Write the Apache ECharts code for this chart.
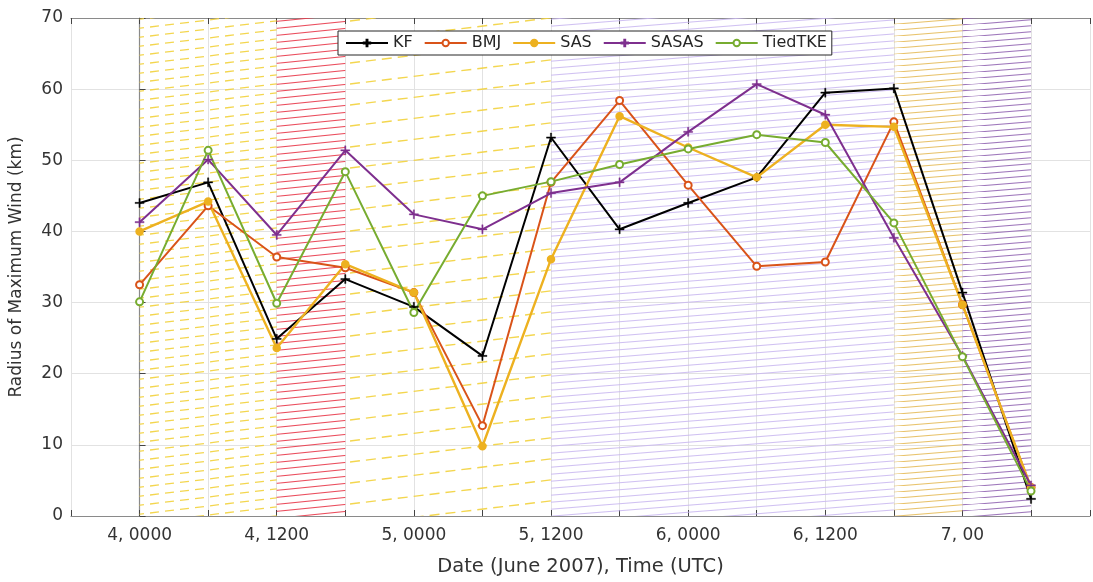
<!DOCTYPE html>
<html><head><meta charset="utf-8">
<script src="https://cdn.jsdelivr.net/npm/echarts@6/dist/echarts.min.js"></script>
<style>html,body{margin:0;padding:0;background:#fff}#c{width:1093px;height:582px}</style>
</head><body><div id="c"></div>
<script>
const tickLabels = ['4, 0000','','4, 1200','','5, 0000','','5, 1200','','6, 0000','','6, 1200','','7, 00',''];
const seriesNames = ['KF','BMJ','SAS','SASAS','TiedTKE'];
const KF      = [44.0, 46.9, 24.9, 33.3, 29.4, 22.5, 53.2, 40.3, 44.0, 47.6, 59.5, 60.1, 31.4, 2.4];
const BMJ     = [32.5, 43.6, 36.4, 34.9, 31.4, 12.7, 46.9, 58.4, 46.5, 35.1, 35.7, 55.4, 29.7, 4.0];
const SAS     = [40.0, 44.2, 23.6, 35.4, 31.4, 9.8, 36.1, 56.2, 51.8, 47.6, 55.0, 54.7, 29.7, 4.0];
const SASAS   = [41.3, 50.1, 39.5, 51.4, 42.4, 40.3, 45.4, 46.9, 54.0, 60.7, 56.4, 39.1, 22.5, 4.3];
const TiedTKE = [30.1, 51.4, 29.9, 48.4, 28.6, 45.0, 47.0, 49.4, 51.6, 53.6, 52.5, 41.2, 22.4, 3.5];
const bandStart = [0, 2, 3, 6, 11, 12];
const bandEnd   = [2, 3, 6, 11, 12, 13];

function hatch(color, spacing, slope, dashLen, nDash, lw, alpha) {
  const W = Math.round(spacing / slope);
  const c = document.createElement('canvas');
  c.width = W; c.height = spacing;
  const ctx = c.getContext('2d');
  ctx.strokeStyle = color; ctx.lineWidth = lw; ctx.globalAlpha = alpha;
  if (dashLen) {
    const L = Math.sqrt(W * W + spacing * spacing);
    const p = L / nDash;
    ctx.setLineDash([dashLen, p - dashLen]);
  }
  for (let k = -1; k <= 1; k++) {
    ctx.beginPath();
    ctx.moveTo(0, spacing + k * spacing);
    ctx.lineTo(W, k * spacing);
    ctx.stroke();
  }
  return { image: c, repeat: 'repeat' };
}
const bandFills = [
  hatch('#f2d23c', 9, 0.12, 9, 5, 1.3, 0.9),
  hatch('#e8384a', 7, 0.1, 0, 0, 1.1, 0.9),
  hatch('#f2d23c', 21, 0.12, 10, 11, 1.4, 0.9),
  hatch('#c8b6f0', 7, 0.08, 0, 0, 1.1, 0.85),
  hatch('#e6bc5c', 6.5, 0.08, 0, 0, 1.1, 0.9),
  hatch('#9468b4', 6.5, 0.08, 0, 0, 1.1, 0.9)
];

const colors = ['#000000', '#D95319', '#EDB120', '#7E2F8E', '#77AC30'];
const plus = 'path://M4.3,0h1.4v4.3h4.3v1.4h-4.3v4.3h-1.4v-4.3h-4.3v-1.4h4.3z';
const symbols = [plus, 'emptyCircle', 'circle', plus, 'emptyCircle'];
const sizes = [9, 7, 7, 9, 7];
const allData = [KF, BMJ, SAS, SASAS, TiedTKE];

const chart = echarts.init(document.getElementById('c'), null, { renderer: 'canvas' });
const FONT = 'DejaVu Sans, sans-serif';
const XMAX = 13.86;
const axisCommon = {
  type: 'value', min: -1, max: XMAX, interval: 1,
  axisLine: { show: true, onZero: false, lineStyle: { color: '#8a8a8a', width: 1.2 } },
  axisTick: { show: true, inside: true, length: 6, lineStyle: { color: '#444', width: 1 } },
};
const series = seriesNames.map((n, i) => ({
  name: n, type: 'line', z: 5,
  data: allData[i].map((v, j) => [j, v]),
  symbol: symbols[i], symbolSize: sizes[i], showSymbol: true,
  lineStyle: { color: colors[i], width: i === 2 ? 2.4 : 2 },
  itemStyle: { color: colors[i], borderColor: colors[i], borderWidth: symbols[i] === plus ? 0.4 : 1.5 },
  emphasis: { disabled: true }, animation: false
}));
series.unshift({
  name: 'bands', type: 'line', data: [], z: 1, silent: true, animation: false,
  markArea: {
    silent: true,
    data: bandStart.map((s, i) => [
      { xAxis: s, itemStyle: { color: bandFills[i] } },
      { xAxis: bandEnd[i] }
    ])
  }
});

chart.setOption({
  animation: false,
  backgroundColor: '#ffffff',
  grid: { left: 64, right: 0, top: 18, bottom: 52.5, containLabel: false },
  legend: {
    data: seriesNames, left: 338, top: 31, itemWidth: 42, itemHeight: 8, itemGap: 11,
    backgroundColor: '#ffffff', borderColor: '#262626', borderWidth: 1, padding: [4, 5, 4, 7],
    textStyle: { fontFamily: FONT, fontSize: 16, color: '#262626' }
  },
  xAxis: [
    Object.assign({}, axisCommon, {
      position: 'bottom',
      name: 'Date (June 2007), Time (UTC)', nameLocation: 'middle', nameGap: 41,
      nameTextStyle: { fontFamily: FONT, fontSize: 19.5, color: '#333' },
      axisLabel: { show: true, margin: 11, fontFamily: FONT, fontSize: 17, color: '#333',
        formatter: v => (Number.isInteger(v) && v >= 0 && v < tickLabels.length) ? tickLabels[v] : '' },
      splitLine: { show: true, lineStyle: { color: '#e2e2e2', width: 1 } }
    }),
    Object.assign({}, axisCommon, {
      position: 'top', axisLabel: { show: false }, splitLine: { show: false }
    })
  ],
  yAxis: {
    type: 'value', min: 0, max: 70, interval: 10,
    name: 'Radius of Maximum Wind (km)', nameLocation: 'middle', nameGap: 46,
    nameTextStyle: { fontFamily: FONT, fontSize: 17, color: '#333' },
    axisLine: { show: true, lineStyle: { color: '#8a8a8a', width: 1.2 } },
    axisTick: { show: true, inside: true, length: 6, lineStyle: { color: '#444' } },
    axisLabel: { fontFamily: FONT, fontSize: 17, color: '#333', margin: 8 },
    splitLine: { show: true, lineStyle: { color: '#e2e2e2', width: 1 } }
  },
  series: series
});
</script></body></html>
